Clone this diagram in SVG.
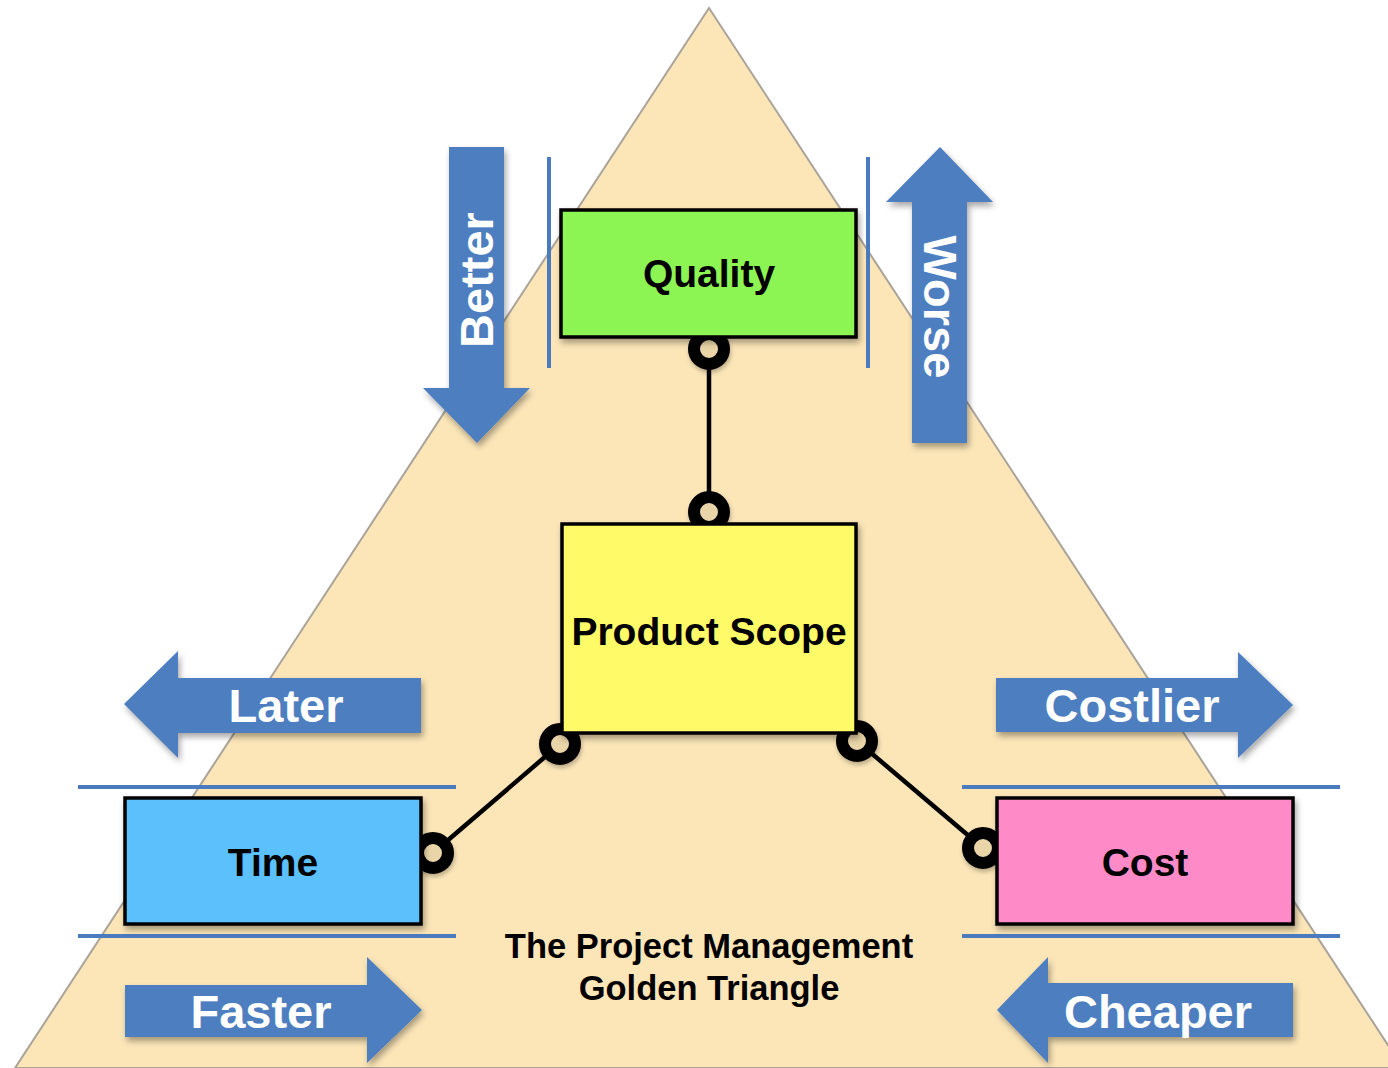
<svg xmlns="http://www.w3.org/2000/svg" width="1388" height="1068" viewBox="0 0 1388 1068">
<defs>
<filter id="sh" x="-20%" y="-20%" width="140%" height="140%">
<feDropShadow dx="2" dy="4" stdDeviation="3" flood-color="#000" flood-opacity="0.35"/>
</filter>
<filter id="rsh" x="-40%" y="-40%" width="180%" height="180%">
<feDropShadow dx="1" dy="3" stdDeviation="2" flood-color="#000" flood-opacity="0.25"/>
</filter>
</defs>
<style>
.arrow{fill:#4E7EC0;filter:url(#sh)}
.atext{font-family:"Liberation Sans",Arial,Helvetica,sans-serif;font-weight:bold;font-size:47px;fill:#fff;text-anchor:middle}
.box{stroke:#000;stroke-width:3.5;filter:url(#sh)}
.btext{font-family:"Liberation Sans",Arial,Helvetica,sans-serif;font-weight:bold;font-size:39px;fill:#000;text-anchor:middle}
.guide{stroke:#4A7BBF;stroke-width:4;fill:none}
.conn{stroke:#000;stroke-width:4.5;fill:none}
.ring{stroke:#000;stroke-width:12;fill:#EAD5A9;filter:url(#rsh)}
.title{font-family:"Liberation Sans",Arial,Helvetica,sans-serif;font-weight:bold;font-size:34.5px;fill:#000;text-anchor:middle}
</style>
<rect x="0" y="0" width="1388" height="1068" fill="#fff"/>
<path id="triangle" d="M709,8 L1403,1068 L15,1068 Z" fill="#FCE6B8" stroke="#A9A39A" stroke-width="2"/>
<g id="guides">
<line class="guide" x1="549" y1="157" x2="549" y2="368"/>
<line class="guide" x1="868" y1="157" x2="868" y2="368"/>
<line class="guide" x1="78" y1="787" x2="456" y2="787"/>
<line class="guide" x1="78" y1="936" x2="456" y2="936"/>
<line class="guide" x1="962" y1="787" x2="1340" y2="787"/>
<line class="guide" x1="962" y1="936" x2="1340" y2="936"/>
</g>
<g id="arrow-better">
<path class="arrow" d="M449,147 H504 V388 H530 L477,443 L423,388 H449 Z"/>
<text class="atext" transform="translate(477,280) rotate(-90)" x="0" y="16">Better</text>
</g>
<g id="arrow-worse">
<path class="arrow" d="M912,443 V202 H886 L940,147 L993,202 H967 V443 Z"/>
<text class="atext" transform="translate(940,307) rotate(90)" x="0" y="16">Worse</text>
</g>
<g id="arrow-later">
<path class="arrow" d="M421,678 V733 H178 V758 L124,704 L178,651 V678 Z"/>
<text class="atext" x="286" y="722">Later</text>
</g>
<g id="arrow-costlier">
<path class="arrow" d="M996,678 H1238 V652 L1293,705 L1238,758 V732 H996 Z"/>
<text class="atext" x="1132" y="722">Costlier</text>
</g>
<g id="arrow-faster">
<path class="arrow" d="M125,985 H367 V957 L422,1010 L367,1063 V1037 H125 Z"/>
<text class="atext" x="261" y="1028">Faster</text>
</g>
<g id="arrow-cheaper">
<path class="arrow" d="M1293,983 V1037 H1048 V1063 L997,1010 L1048,957 V983 Z"/>
<text class="atext" x="1158" y="1028">Cheaper</text>
</g>
<g id="connectors">
<line class="conn" x1="709" y1="349" x2="709" y2="512"/>
<line class="conn" x1="560" y1="744" x2="433" y2="853"/>
<line class="conn" x1="857" y1="741" x2="983" y2="848"/>
<circle class="ring" cx="709" cy="349" r="15"/>
<circle class="ring" cx="709" cy="512" r="15"/>
<circle class="ring" cx="560" cy="744" r="15"/>
<circle class="ring" cx="857" cy="741" r="15"/>
<circle class="ring" cx="433" cy="853" r="15"/>
<circle class="ring" cx="983" cy="848" r="15"/>
</g>
<g id="node-quality">
<rect class="box" x="561" y="210" width="295" height="127" fill="#8CF552"/>
<text class="btext" x="709" y="287">Quality</text>
</g>
<g id="node-scope">
<rect class="box" x="562" y="524" width="294" height="209" fill="#FFFB68"/>
<text class="btext" x="709" y="645">Product Scope</text>
</g>
<g id="node-time">
<rect class="box" x="125" y="798" width="296" height="126" fill="#5CC0FC"/>
<text class="btext" x="273" y="876">Time</text>
</g>
<g id="node-cost">
<rect class="box" x="997" y="798" width="296" height="126" fill="#FF8AC8"/>
<text class="btext" x="1145" y="876">Cost</text>
</g>
<g id="title">
<text class="title" x="709" y="958">The Project Management</text>
<text class="title" x="709" y="1000">Golden Triangle</text>
</g>
</svg>
